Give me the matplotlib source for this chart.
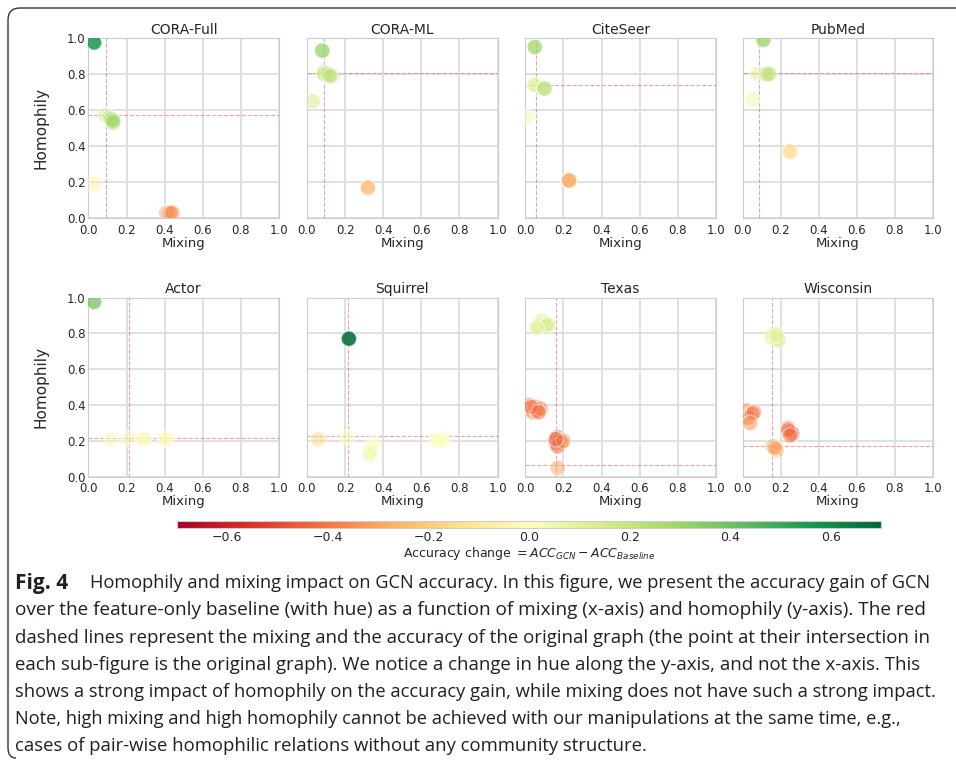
import numpy as np
import matplotlib
matplotlib.use('Agg')
import matplotlib.pyplot as plt
import seaborn as sns
from matplotlib.path import Path
from matplotlib.patches import PathPatch

sns.set_style('whitegrid')
plt.rcParams['font.family'] = ['DejaVu Sans']

datasets = ['CORA-Full', 'CORA-ML', 'CiteSeer', 'PubMed',
            'Actor', 'Squirrel', 'Texas', 'Wisconsin']

# original graph (red dashed lines): mixing, homophily
orig_mixing = [0.095, 0.09, 0.055, 0.088, 0.213, 0.214, 0.16, 0.156]
orig_homophily = [0.573, 0.807, 0.738, 0.804, 0.215, 0.227, 0.065, 0.173]

# manipulated graphs: mixing, homophily, accuracy change
mixing = {
    'CORA-Full': [0.03, 0.03, 0.03, 0.09, 0.11, 0.12, 0.13, 0.13, 0.03, 0.41, 0.42, 0.43, 0.44],
    'CORA-ML': [0.08, 0.08, 0.09, 0.09, 0.11, 0.13, 0.12, 0.03, 0.32, 0.32],
    'CiteSeer': [0.05, 0.05, 0.05, 0.05, 0.10, 0.10, 0.01, 0.23, 0.23, 0.23],
    'PubMed': [0.11, 0.11, 0.08, 0.12, 0.13, 0.14, 0.05, 0.25, 0.25],
    'Actor': [0.03, 0.03, 0.12, 0.21, 0.29, 0.29, 0.40, 0.41],
    'Squirrel': [0.22, 0.22, 0.22, 0.06, 0.21, 0.35, 0.34, 0.33, 0.33, 0.67, 0.69, 0.72, 0.70],
    'Texas': [0.07, 0.09, 0.11, 0.12, 0.06,
              0.01, 0.02, 0.04, 0.05, 0.06, 0.08, 0.03, 0.07,
              0.16, 0.17, 0.18, 0.19, 0.17, 0.20, 0.16, 0.17],
    'Wisconsin': [0.17, 0.18, 0.19, 0.15, 0.18,
                  0.02, 0.03, 0.05, 0.06, 0.04,
                  0.24, 0.25, 0.26, 0.24, 0.25,
                  0.16, 0.18, 0.17],
}
homophily = {
    'CORA-Full': [0.975, 0.975, 0.975, 0.57, 0.56, 0.55, 0.53, 0.54, 0.19, 0.03, 0.03, 0.03, 0.03],
    'CORA-ML': [0.93, 0.93, 0.81, 0.80, 0.80, 0.79, 0.79, 0.65, 0.17, 0.17],
    'CiteSeer': [0.95, 0.95, 0.74, 0.74, 0.72, 0.72, 0.56, 0.21, 0.21, 0.21],
    'PubMed': [0.99, 0.99, 0.80, 0.80, 0.80, 0.80, 0.66, 0.37, 0.37],
    'Actor': [0.975, 0.975, 0.21, 0.21, 0.21, 0.21, 0.21, 0.21],
    'Squirrel': [0.77, 0.77, 0.77, 0.21, 0.22, 0.19, 0.16, 0.14, 0.12, 0.20, 0.21, 0.21, 0.20],
    'Texas': [0.84, 0.87, 0.84, 0.85, 0.83,
              0.38, 0.40, 0.36, 0.39, 0.37, 0.38, 0.39, 0.36,
              0.19, 0.22, 0.20, 0.19, 0.17, 0.20, 0.21, 0.05],
    'Wisconsin': [0.80, 0.77, 0.76, 0.78, 0.79,
                  0.37, 0.33, 0.35, 0.36, 0.30,
                  0.27, 0.25, 0.24, 0.26, 0.23,
                  0.17, 0.15, 0.16],
}
acc_change = {
    'CORA-Full': [0.55, 0.55, 0.55, 0.15, 0.2, 0.3, 0.32, 0.28, -0.05, -0.35, -0.35, -0.35, -0.35],
    'CORA-ML': [0.32, 0.3, 0.22, 0.22, 0.25, 0.22, 0.2, 0.15, -0.25, -0.25],
    'CiteSeer': [0.3, 0.28, 0.1, 0.12, 0.24, 0.22, 0.04, -0.28, -0.28, -0.28],
    'PubMed': [0.32, 0.3, 0.1, 0.2, 0.22, 0.2, 0.05, -0.15, -0.15],
    'Actor': [0.4, 0.38, -0.03, -0.02, -0.03, -0.02, -0.02, -0.03],
    'Squirrel': [0.68, 0.68, 0.68, -0.15, 0.0, 0.0, 0.02, 0.04, 0.05, 0.0, 0.01, 0.02, 0.01],
    'Texas': [0.15, 0.12, 0.18, 0.14, 0.12,
              -0.38, -0.4, -0.38, -0.42, -0.4, -0.38, -0.4, -0.42,
              -0.45, -0.45, -0.48, -0.42, -0.45, -0.3, -0.45, -0.3],
    'Wisconsin': [0.12, 0.1, 0.14, 0.1, 0.12,
                  -0.35, -0.42, -0.45, -0.38, -0.35,
                  -0.45, -0.45, -0.48, -0.42, -0.4,
                  -0.3, -0.28, -0.32],
}

caption_head = 'Fig. 4'
caption = [
    'Homophily and mixing impact on GCN accuracy. In this figure, we present the accuracy gain of GCN',
    'over the feature-only baseline (with hue) as a function of mixing (x-axis) and homophily (y-axis). The red',
    'dashed lines represent the mixing and the accuracy of the original graph (the point at their intersection in',
    'each sub-figure is the original graph). We notice a change in hue along the y-axis, and not the x-axis. This',
    'shows a strong impact of homophily on the accuracy gain, while mixing does not have such a strong impact.',
    'Note, high mixing and high homophily cannot be achieved with our manipulations at the same time, e.g.,',
    'cases of pair-wise homophilic relations without any community structure.',
]

W, H = 956, 761
fig = plt.figure(figsize=(W / 100, H / 100), dpi=100)

lefts = [88.4, 307, 525.3, 742.5]
rows = [(38, 218.3), (297.5, 476.7)]
cmap = plt.get_cmap('RdYlGn')
norm = matplotlib.colors.Normalize(vmin=-0.7, vmax=0.7)

for i, name in enumerate(datasets):
    r, c = divmod(i, 4)
    top, bot = rows[r]
    ax = fig.add_axes([lefts[c] / W, 1 - bot / H, 190.5 / W, (bot - top) / H])
    ax.scatter(mixing[name], homophily[name], c=acc_change[name], cmap=cmap, norm=norm,
               s=125, alpha=0.5, edgecolors='white', linewidths=1, zorder=3)
    ax.axvline(orig_mixing[i], color='#e06666', ls='--', lw=0.8, alpha=0.6, zorder=2)
    ax.axhline(orig_homophily[i], color='#e06666', ls='--', lw=0.8, alpha=0.6, zorder=2)
    ax.set_xlim(0, 1)
    ax.set_ylim(0, 1)
    ax.set_xticks(np.arange(0, 1.01, 0.2))
    ax.set_yticks(np.arange(0, 1.01, 0.2))
    ax.tick_params(labelsize=8.5, length=0)
    ax.tick_params(axis='x', pad=4)
    ax.tick_params(axis='y', pad=2)
    ax.grid(color='#dddddd', lw=1.3)
    for s in ax.spines.values():
        s.set_color('#cccccc')
    ax.set_title(name, fontsize=10, pad=3)
    ax.set_xlabel('Mixing', fontsize=9.5, labelpad=0)
    if c == 0:
        ax.set_ylabel('Homophily', fontsize=11, labelpad=13)
    else:
        ax.set_yticklabels([])

cax = fig.add_axes([177 / W, 1 - 528 / H, 704 / W, 7 / H])
cb = fig.colorbar(matplotlib.cm.ScalarMappable(norm=norm, cmap=cmap), cax=cax,
                  orientation='horizontal')
cb.set_ticks([-0.6, -0.4, -0.2, 0.0, 0.2, 0.4, 0.6])
cb.ax.tick_params(labelsize=9, length=0, pad=2)
cb.outline.set_edgecolor('#cccccc')
cb.set_label(r'Accuracy change $= ACC_{GCN} - ACC_{Baseline}$', fontsize=9, labelpad=1)

# caption frame: open on the right, rounded corners on the left
def px(x, y):
    return (x / W, 1 - y / H)

verts = [px(W + 5, 8), px(20, 8), px(8, 8), px(8, 20), px(8, 748), px(8, 758), px(16, 758)]
codes = [Path.MOVETO, Path.LINETO, Path.CURVE3, Path.CURVE3, Path.LINETO, Path.CURVE3, Path.CURVE3]
frame = PathPatch(Path(verts, codes), transform=fig.transFigure, fill=False,
                  edgecolor='#333333', lw=1.0)
fig.patches.append(frame)

# caption: each line is fitted to the width it has in the printed figure
line_y = [583, 610, 638, 665, 692, 719, 746]
line_x0 = [90, 15, 15, 15, 15, 15, 15]
line_x1 = [933, 932, 929, 922, 935, 905, 648]
fig.text(15 / W, 1 - line_y[0] / H, caption_head, fontsize=15, fontweight='bold',
         family='Open Sans', va='center', color='#231f20')
renderer = fig.canvas.get_renderer()
for k, line in enumerate(caption):
    t = fig.text(line_x0[k] / W, 1 - line_y[k] / H, line, fontsize=13.4, family='Open Sans',
                 va='center', color='#231f20')
    w = t.get_window_extent(renderer).width
    t.set_fontsize(13.4 * (line_x1[k] - line_x0[k]) / w)

fig.savefig('out.png', dpi=100)
